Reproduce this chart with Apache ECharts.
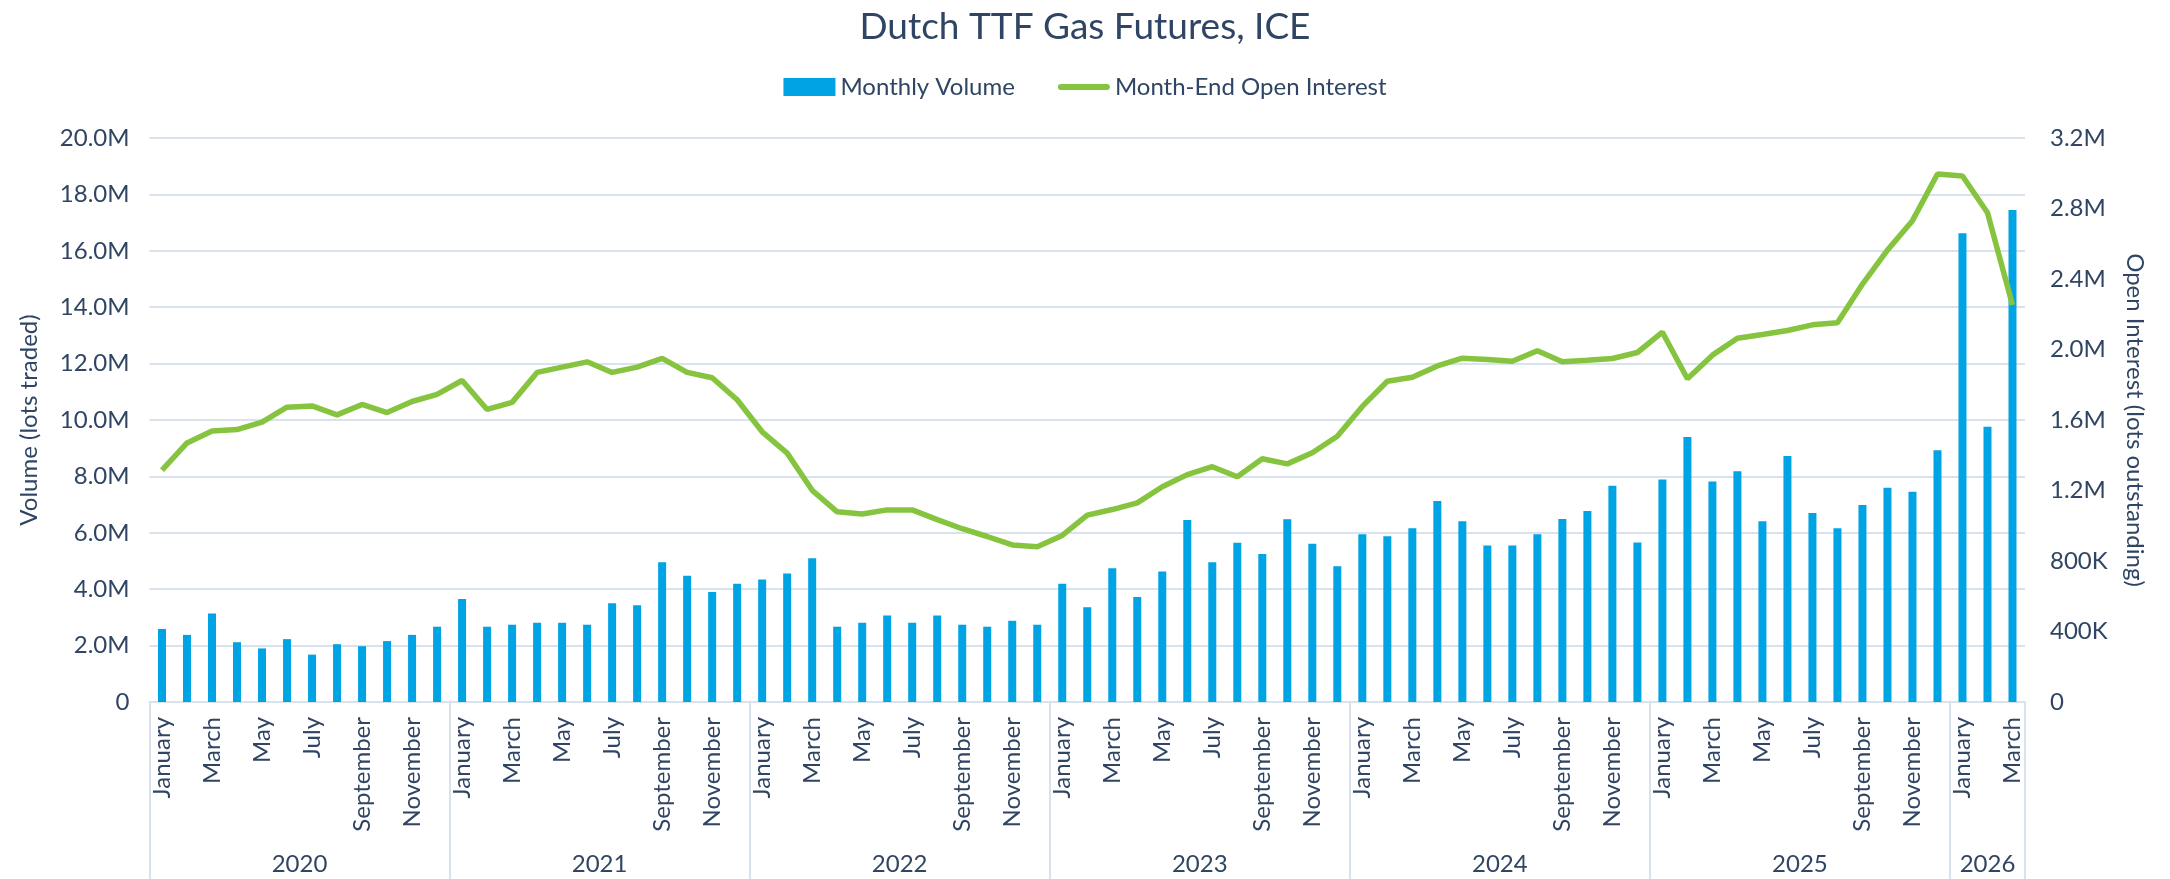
<!DOCTYPE html>
<html>
<head>
<meta charset="utf-8">
<title>Dutch TTF Gas Futures, ICE</title>
<script src="https://cdn.jsdelivr.net/npm/echarts@6/dist/echarts.min.js"></script>
<style>
    html, body { margin: 0; padding: 0; background: #fff; }
    #chart { width: 2170px; height: 879px; }
</style>
</head>
<body>
<div id="chart"></div>
<script>
    "use strict";

    // ------------------------------
    // Data (values in millions of lots)
    // ------------------------------
    var monthNames = ['January', 'February', 'March', 'April', 'May', 'June',
        'July', 'August', 'September', 'October', 'November', 'December'];
    var years = ['2020', '2021', '2022', '2023', '2024', '2025', '2026'];

    var monthlyVolume = [
        2.59, 2.38, 3.14, 2.12, 1.90, 2.23, 1.68, 2.05, 1.98, 2.16, 2.38, 2.67,   // 2020
        3.65, 2.67, 2.74, 2.81, 2.81, 2.74, 3.50, 3.43, 4.96, 4.48, 3.90, 4.19,   // 2021
        4.34, 4.56, 5.10, 2.67, 2.81, 3.07, 2.81, 3.07, 2.74, 2.67, 2.88, 2.74,   // 2022
        4.19, 3.36, 4.74, 3.72, 4.63, 6.45, 4.96, 5.65, 5.25, 6.48, 5.61, 4.81,   // 2023
        5.95, 5.88, 6.16, 7.13, 6.41, 5.55, 5.55, 5.95, 6.49, 6.77, 7.67, 5.66,   // 2024
        7.89, 9.40, 7.82, 8.18, 6.41, 8.72, 6.70, 6.16, 6.99, 7.60, 7.46, 8.93,   // 2025
        16.62, 9.76, 17.45                                                      // 2026
    ];

    var openInterest = [
        1.316, 1.470, 1.537, 1.546, 1.588, 1.673, 1.680, 1.629, 1.688, 1.642, 1.705, 1.745,   // 2020
        1.824, 1.660, 1.700, 1.870, 1.900, 1.930, 1.870, 1.900, 1.950, 1.870, 1.840, 1.715,   // 2021
        1.533, 1.412, 1.201, 1.079, 1.067, 1.090, 1.090, 1.035, 0.983, 0.939, 0.891, 0.881,   // 2022
        0.945, 1.060, 1.092, 1.130, 1.221, 1.290, 1.335, 1.278, 1.380, 1.351, 1.414, 1.508,   // 2023
        1.677, 1.820, 1.843, 1.907, 1.951, 1.943, 1.933, 1.993, 1.930, 1.939, 1.949, 1.983,   // 2024
        2.098, 1.834, 1.968, 2.064, 2.085, 2.108, 2.140, 2.152, 2.371, 2.564, 2.731, 2.996,   // 2025
        2.984, 2.776, 2.252                                                                   // 2026
    ];

    var volumeTicks = { min: 0, max: 20, interval: 2 };
    var oiTicks = { min: 0, max: 3.2, interval: 0.4 };

    // month category labels, one per data point
    var categories = monthlyVolume.map(function (v, i) {
        return monthNames[i % 12];
    });

    // year separators and year label positions (in month units)
    var yearBreaks = [];
    var yearCentres = [];
    years.forEach(function (y, i) {
        var start = i * 12;
        var end = Math.min(start + 12, categories.length);
        yearBreaks.push(start);
        yearCentres.push((start + end) / 2);
    });
    yearBreaks.push(categories.length);

    var textColor = '#2f4563';
    var lineColor = '#d9e3ee';
    var font = 'Lato';

    var chart = echarts.init(document.getElementById('chart'));

    var option = {
        backgroundColor: '#ffffff',
        textStyle: { fontFamily: font, color: textColor },

        // Add title
        title: {
            text: 'Dutch TTF Gas Futures, ICE',
            left: 'center',
            top: 4,
            textStyle: { fontFamily: font, fontSize: 37, fontWeight: 'normal', color: textColor }
        },

        // Add legend
        legend: {
            top: 70,
            left: 'center',
            itemWidth: 52,
            itemHeight: 18,
            itemGap: 43,
            textStyle: { fontFamily: font, fontSize: 24, color: textColor },
            data: [
                { name: 'Monthly Volume', icon: 'rect' },
                // thin rounded bar, aspect kept inside the 52x18 box
                { name: 'Month-End Open Interest', icon: 'path://M3,0 L49,0 A3,3 0 0 1 49,6 L3,6 A3,3 0 0 1 3,0 Z' }
            ]
        },

        grid: {
            left: 149.5,
            right: 145,
            top: 138,
            bottom: 177,
            containLabel: false
        },

        xAxis: [{
            type: 'category',
            data: categories,
            position: 'bottom',
            boundaryGap: true,
            axisLine: { show: true, lineStyle: { color: lineColor, width: 2 } },
            axisTick: { show: false },
            axisLabel: {
                interval: 1,
                rotate: 90,
                margin: 15,
                fontFamily: font,
                fontSize: 24,
                color: textColor
            }
        }, {
            // year grouping row
            type: 'value',
            position: 'bottom',
            min: 0,
            max: categories.length,
            axisLine: { show: false },
            splitLine: { show: false },
            axisTick: {
                show: true,
                customValues: yearBreaks,
                length: 177,
                lineStyle: { color: lineColor, width: 2 }
            },
            axisLabel: {
                customValues: yearCentres,
                margin: 150,
                fontFamily: font,
                fontSize: 24,
                color: textColor,
                formatter: function (v) {
                    return years[Math.floor(v / 12)];
                }
            }
        }],

        yAxis: [{
            type: 'value',
            name: 'Volume (lots traded)',
            nameLocation: 'middle',
            nameGap: 108,
            nameTextStyle: { fontFamily: font, fontSize: 24, color: textColor },
            min: volumeTicks.min,
            max: volumeTicks.max,
            interval: volumeTicks.interval,
            axisLine: { show: false },
            axisTick: { show: false },
            splitLine: { lineStyle: { color: lineColor, width: 2 } },
            axisLabel: {
                margin: 20,
                fontFamily: font,
                fontSize: 24,
                color: textColor,
                formatter: function (v) {
                    return v === 0 ? '0' : v.toFixed(1) + 'M';
                }
            }
        }, {
            type: 'value',
            position: 'right',
            name: 'Open Interest (lots outstanding)',
            nameLocation: 'middle',
            nameRotate: -90,
            nameGap: 98,
            nameTextStyle: { fontFamily: font, fontSize: 24, color: textColor },
            min: oiTicks.min,
            max: oiTicks.max,
            interval: oiTicks.interval,
            axisLine: { show: false },
            axisTick: { show: false },
            splitLine: { show: false },
            axisLabel: {
                margin: 25,
                fontFamily: font,
                fontSize: 24,
                color: textColor,
                formatter: function (v) {
                    if (v === 0) return '0';
                    if (v < 1) return Math.round(v * 1000) + 'K';
                    return v.toFixed(1) + 'M';
                }
            }
        }],

        // Add series
        series: [{
            name: 'Monthly Volume',
            type: 'bar',
            xAxisIndex: 0,
            yAxisIndex: 0,
            barWidth: 8,
            itemStyle: { color: '#00a3e4' },
            data: monthlyVolume
        }, {
            name: 'Month-End Open Interest',
            type: 'line',
            xAxisIndex: 0,
            yAxisIndex: 1,
            symbol: 'none',
            lineStyle: { color: '#86c440', width: 5.5 },
            itemStyle: { color: '#86c440' },
            data: openInterest
        }]
    };

    chart.setOption(option);
</script>
</body>
</html>
